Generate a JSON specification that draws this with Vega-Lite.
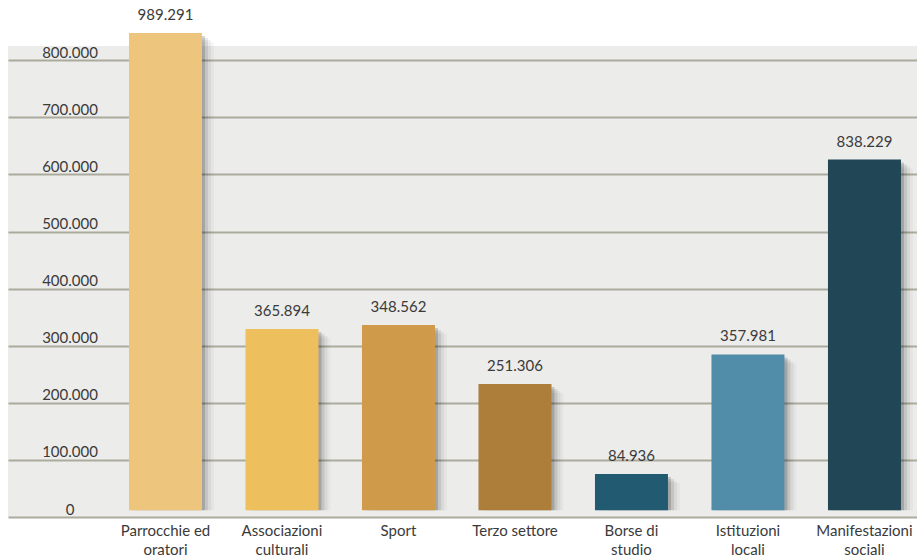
{
  "$schema": "https://vega.github.io/schema/vega-lite/v6.json",
  "autosize": {"type": "none"},
  "padding": {"left": 8, "top": 46, "right": 0, "bottom": 43},
  "width": 909,
  "height": 471,
  "background": "#ffffff",
  "config": {
    "view": {"fill": "#ECECEA", "stroke": null},
    "font": "Lato",
    "locale": {"number": {"decimal": ",", "thousands": ".", "grouping": [3], "currency": ["€", ""]}}
  },
  "data": {
    "values": [
      {"categoria": "Parrocchie ed oratori", "barra": 847600, "importo": 989291},
      {"categoria": "Associazioni culturali", "barra": 329200, "importo": 365894},
      {"categoria": "Sport", "barra": 336200, "importo": 348562},
      {"categoria": "Terzo settore", "barra": 232900, "importo": 251306},
      {"categoria": "Borse di studio", "barra": 75300, "importo": 84936},
      {"categoria": "Istituzioni locali", "barra": 284700, "importo": 357981},
      {"categoria": "Manifestazioni sociali", "barra": 626100, "importo": 838229}
    ]
  },
  "encoding": {
    "x": {
      "field": "categoria",
      "type": "nominal",
      "sort": null,
      "scale": {"paddingInner": 0.3734, "paddingOuter": 0.588, "align": 0.883},
      "axis": {
        "title": null,
        "domain": false,
        "ticks": false,
        "tickSize": 0,
        "labelPadding": 6,
        "labelAngle": 0,
        "labelBaseline": "top",
        "labelFontSize": 15,
        "labelLineHeight": 19,
        "labelColor": "#3a3a3a",
        "labelOverlap": false,
        "labelExpr": "datum.label == 'Terzo settore' || datum.label == 'Sport' ? datum.label : [substring(datum.label, 0, lastindexof(datum.label, ' ')), substring(datum.label, lastindexof(datum.label, ' ') + 1)]"
      }
    },
    "y": {
      "field": "barra",
      "type": "quantitative",
      "scale": {"domain": [0, 825000], "nice": false, "zero": true},
      "axis": {
        "title": null,
        "values": [0, 100000, 200000, 300000, 400000, 500000, 600000, 700000, 800000],
        "labelExpr": "format(datum.value, ',')",
        "domain": false,
        "ticks": false,
        "tickSize": 0,
        "labelPadding": -61.5,
        "labelAlign": "center",
        "labelBaseline": "alphabetic",
        "labelOffset": -3,
        "labelFontSize": 15,
        "labelColor": "#3a3a3a",
        "grid": true,
        "gridColor": "#ABAB9D",
        "gridWidth": 2,
        "gridOpacity": 1
      }
    }
  },
  "layer": [
    {"mark": {"type": "bar", "color": "#000000", "opacity": 0.03, "xOffset": 12, "yOffset": 9}, "encoding": {"y2": {"datum": 12000}}},
    {"mark": {"type": "bar", "color": "#000000", "opacity": 0.05, "xOffset": 9, "yOffset": 7}, "encoding": {"y2": {"datum": 12000}}},
    {"mark": {"type": "bar", "color": "#000000", "opacity": 0.09, "xOffset": 6, "yOffset": 5}, "encoding": {"y2": {"datum": 12000}}},
    {"mark": {"type": "bar", "color": "#000000", "opacity": 0.16, "xOffset": 3, "yOffset": 3}, "encoding": {"y2": {"datum": 12000}}},
    {
      "mark": {"type": "bar", "opacity": 1},
      "encoding": {
        "y2": {"datum": 12000},
        "color": {
          "field": "categoria",
          "type": "nominal",
          "legend": null,
          "scale": {
            "domain": ["Parrocchie ed oratori", "Associazioni culturali", "Sport", "Terzo settore", "Borse di studio", "Istituzioni locali", "Manifestazioni sociali"],
            "range": ["#EEC57C", "#EEBF5D", "#CF9B4A", "#AD7D3A", "#225B71", "#518CA8", "#214656"]
          }
        }
      }
    },
    {
      "mark": {"type": "text", "baseline": "alphabetic", "dy": -13, "fontSize": 15, "color": "#3a3a3a"},
      "encoding": {"text": {"field": "importo", "type": "quantitative", "format": ","}}
    }
  ]
}
